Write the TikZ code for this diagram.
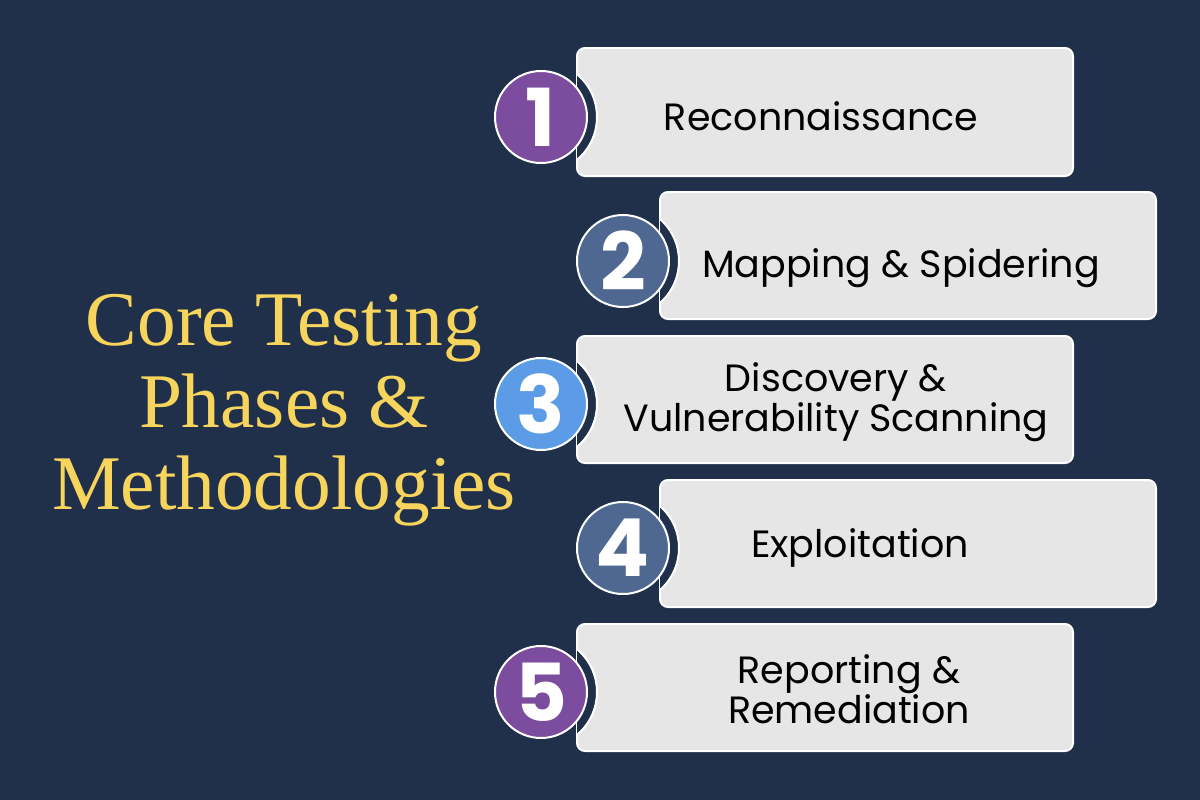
\documentclass[tikz,border=0pt]{standalone}
\usepackage{fontspec}
\setmainfont{Liberation Serif}
\newfontfamily\popfont{Poppins}
\usepackage{tikz}
\usepackage{color}

\definecolor{bgnavy}{RGB}{32,48,74}
\definecolor{boxgray}{RGB}{230,230,230}
\definecolor{titleyellow}{RGB}{247,212,92}
\definecolor{numpurple}{RGB}{124,76,158}
\definecolor{numslate}{RGB}{78,104,145}
\definecolor{numblue}{RGB}{92,156,230}

\begin{document}
\begin{tikzpicture}[x=0.75pt,y=0.75pt,yscale=-1,xscale=1]
\useasboundingbox (0,0) rectangle (1200,800);
%Shape: Rectangle [background]
\fill [bgnavy] (0,0) rectangle (1200,800);

% Text Node [title]
\node [color=titleyellow, align=center, font=\fontsize{58}{61.5}\selectfont] (title) at (284,410) {Core Testing\\Phases \&\\Methodologies};

%Shape: Rectangle [phase 1]
\draw [white, fill=boxgray, line width=1.5, rounded corners=6pt] (577,48) rectangle (1073,176);
\begin{scope}
\clip [rounded corners=6pt] (577,48) rectangle (1073,176);
\draw [white, fill=bgnavy, line width=1.5] (541,117) circle (56);
\end{scope}
%Shape: Circle [phase 1]
\node [circle, draw=white, fill=numpurple, line width=1.5, minimum size=69pt, inner sep=0, text=white, font=\popfont\bfseries\fontsize{60}{60}\selectfont] (num1) at (541,117) {1};
% Text Node
\node [anchor=base, font=\popfont\fontsize{28.5}{28.5}\selectfont] (phase1) at (821,130) {Reconnaissance};

%Shape: Rectangle [phase 2]
\draw [white, fill=boxgray, line width=1.5, rounded corners=6pt] (660,192) rectangle (1156,319);
\begin{scope}
\clip [rounded corners=6pt] (660,192) rectangle (1156,319);
\draw [white, fill=bgnavy, line width=1.5] (623,261) circle (56);
\end{scope}
%Shape: Circle [phase 2]
\node [circle, draw=white, fill=numslate, line width=1.5, minimum size=69pt, inner sep=0, text=white, font=\popfont\bfseries\fontsize{60}{60}\selectfont] (num2) at (623,261) {2};
% Text Node
\node [anchor=base, font=\popfont\fontsize{28.5}{28.5}\selectfont] (phase2) at (901,277) {Mapping \& Spidering};

%Shape: Rectangle [phase 3]
\draw [white, fill=boxgray, line width=1.5, rounded corners=6pt] (577,336) rectangle (1073,463);
\begin{scope}
\clip [rounded corners=6pt] (577,336) rectangle (1073,463);
\draw [white, fill=bgnavy, line width=1.5] (541,404) circle (56);
\end{scope}
%Shape: Circle [phase 3]
\node [circle, draw=white, fill=numblue, line width=1.5, minimum size=69pt, inner sep=0, text=white, font=\popfont\bfseries\fontsize{60}{60}\selectfont] (num3) at (541,404) {3};
% Text Node
\node [align=center, font=\popfont\fontsize{28.5}{28.5}\selectfont] (phase3) at (836,402) {Discovery \&\\Vulnerability Scanning};

%Shape: Rectangle [phase 4]
\draw [white, fill=boxgray, line width=1.5, rounded corners=6pt] (660,480) rectangle (1156,607);
\begin{scope}
\clip [rounded corners=6pt] (660,480) rectangle (1156,607);
\draw [white, fill=bgnavy, line width=1.5] (623,548) circle (56);
\end{scope}
%Shape: Circle [phase 4]
\node [circle, draw=white, fill=numslate, line width=1.5, minimum size=69pt, inner sep=0, text=white, font=\popfont\bfseries\fontsize{60}{60}\selectfont] (num4) at (623,548) {4};
% Text Node
\node [anchor=base, font=\popfont\fontsize{28.5}{28.5}\selectfont] (phase4) at (860,557) {Exploitation};

%Shape: Rectangle [phase 5]
\draw [white, fill=boxgray, line width=1.5, rounded corners=6pt] (577,624) rectangle (1073,751);
\begin{scope}
\clip [rounded corners=6pt] (577,624) rectangle (1073,751);
\draw [white, fill=bgnavy, line width=1.5] (541,692) circle (56);
\end{scope}
%Shape: Circle [phase 5]
\node [circle, draw=white, fill=numpurple, line width=1.5, minimum size=69pt, inner sep=0, text=white, font=\popfont\bfseries\fontsize{60}{60}\selectfont] (num5) at (541,692) {5};
% Text Node
\node [align=center, font=\popfont\fontsize{28.5}{28.5}\selectfont] (phase5) at (849,689) {Reporting \&\\Remediation};

\end{tikzpicture}
\end{document}
